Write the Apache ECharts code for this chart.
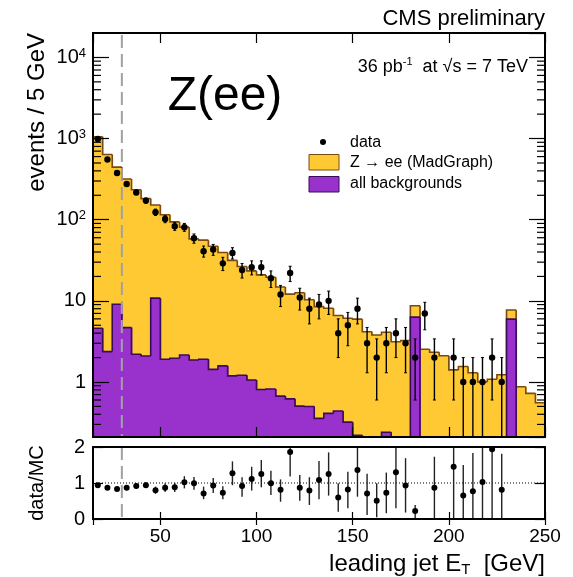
<!DOCTYPE html>
<html><head><meta charset="utf-8">
<script src="https://cdn.jsdelivr.net/npm/echarts@6/dist/echarts.min.js"></script>
<style>html,body{margin:0;padding:0;background:#fff}#c{width:573px;height:577px}</style>
</head><body><div id="c"></div>
<script>
// ---- data ----
const binLow = [15,20,25,30,35,40,45,50,55,60,65,70,75,80,85,90,95,100,105,110,115,120,125,130,135,140,145,150,155,160,165,170,175,180,185,190,195,200,205,210,215,220,225,230,235,240,245];
const binWidth = 5;
// stacked MC total (Z->ee + all backgrounds), events / 5 GeV
const mcTotal = [1050,635,445,318,234,182,152,115,94,81,58,56,47,39.5,31.5,26.5,23.4,20.9,19.5,14.8,12.1,12.6,10.3,8.5,8.1,6.6,6.1,5.95,4.17,3.8,4.1,3.14,3.24,8.7,2.53,2.33,2.11,1.41,1.55,1.30,1.0,1.08,1.23,7.7,0.875,0.725,0.555];
const backgrounds = [4.6,2.37,9.1,4.68,2.2,2.09,10.8,1.91,1.96,2.15,1.87,1.91,1.43,1.58,1.19,1.21,1.06,0.81,0.82,0.67,0.62,0.505,0.50,0.356,0.41,0.44,0.32,0.22,0,0,0.24,0,0,6.3,0,0,0,0,0,0,0,0,0,5.95,0,0,0];
const dataCounts = [990,551,377,276,217,172,124,102,83,81,59,41,43,29,39,24,26,26,19,12,22,11,8,9,10,4,5,8,3,2,3,4,3,2,7,2,0,2,1,1,1,2,1,0,0,0,0];
const dataErr = [31.5,23.5,19.4,16.6,14.7,13.1,11.1,10.1,9.1,9,7.7,6.4,6.6,5.4,6.2,4.9,5.1,5.1,4.4,3.5,4.7,3.3,2.8,3,3.2,2,2.2,2.8,1.7,1.4,1.7,2,1.7,1.4,2.6,1.4,0,1.4,1,1,1,1.4,1,0,0,0,0];
const ratio = [0.94,0.87,0.83,0.87,0.92,0.94,0.80,0.87,0.88,1.02,0.99,0.71,0.93,0.73,1.27,0.92,1.11,1.25,0.99,0.81,1.86,0.87,0.79,1.08,1.25,0.60,0.82,1.36,0.71,0.51,0.73,1.30,0.93,0.22,null,0.87,null,1.45,0.65,0.77,1.03,1.94,0.81,null,null,null,null];
const ratioErrLo = [0.04,0.05,0.06,0.06,0.07,0.08,0.10,0.12,0.13,0.17,0.18,0.16,0.21,0.18,0.33,0.30,0.32,0.37,0.32,0.33,0.68,0.36,0.40,0.53,0.60,0.40,0.52,0.74,0.60,0.46,0.57,1.0,0.75,0.20,null,0.87,null,1.45,0.65,0.77,1.03,1.94,0.81,null,null,null,null];
const ratioErrHi = [0.04,0.05,0.06,0.06,0.07,0.08,0.10,0.12,0.13,0.17,0.18,0.19,0.21,0.18,0.33,0.24,0.34,0.39,0.35,0.29,0.5,0.35,0.37,0.53,0.60,0.39,0.49,0.63,0.55,0.48,0.56,0.8,0.76,0.17,null,0.86,null,1.0,0.85,1.06,1.0,1.0,1.0,null,null,null,null];
const xTickValues = [50,100,150,200,250];
const yMajorTicks = [1,10,100,1000,10000];
const yMinorTicks = [0.3,0.4,0.5,0.6,0.7,0.8,0.9,2,3,4,5,6,7,8,9,20,30,40,50,60,70,80,90,200,300,400,500,600,700,800,900,2000,3000,4000,5000,6000,7000,8000,9000];
const ratioTicks = [0,1,2];
const jetCut = 30;
const legendLabels = ['data','Z \u2192 ee (MadGraph)','all backgrounds'];

// ---- style ----
const FONT = "'Liberation Sans', Arial, Helvetica, sans-serif";
const YELLOW = '#FFC933', YELLOW_LINE = '#7A4A12';
const PURPLE = '#9932CC', PURPLE_LINE = '#3A0C58';
const X_MIN = 15, X_MAX = 250, Y_MIN = 0.21, Y_MAX = 20000;

const chart = echarts.init(document.getElementById('c'), null, {renderer: 'canvas'});

function histSeries(values, fill, stroke, z) {
  return {
    type: 'custom', xAxisIndex: 0, yAxisIndex: 0, z: z,
    data: binLow.map((lo, i) => [lo, lo + binWidth, values[i]]),
    encode: {x: [0, 1], y: 2},
    renderItem: function (params, api) {
      const i = params.dataIndex;
      const cs = params.coordSys;
      const bottom = cs.y + cs.height;
      const lo = api.value(0), hi = api.value(1);
      const yOf = v => (v > Y_MIN ? api.coord([lo, v])[1] : bottom);
      const x0 = api.coord([lo, Y_MIN])[0];
      const x1 = api.coord([hi, Y_MIN])[0];
      const yv = yOf(values[i]);
      const yPrev = i > 0 ? yOf(values[i - 1]) : bottom;
      const children = [];
      if (yv < bottom) {
        const extra = i < values.length - 1 ? 0.9 : 0;
        children.push({type: 'rect', z2: 1, shape: {x: x0 - 0.1, y: yv, width: x1 - x0 + 0.1 + extra, height: bottom - yv}, style: {fill: fill}});
      }
      const pts = [[x0, yPrev], [x0, yv], [x1, yv]];
      if (i === values.length - 1) pts.push([x1, bottom]);
      children.push({type: 'polyline', z2: 5, shape: {points: pts}, style: {stroke: stroke, lineWidth: 1.6, fill: null}});
      return {type: 'group', children: children};
    }
  };
}

const option = {
  animation: false,
  backgroundColor: '#fff',
  textStyle: {fontFamily: FONT},
  grid: [
    {left: 93, top: 33, width: 452, height: 404, show: true, borderColor: '#000', borderWidth: 2, backgroundColor: 'transparent', z: 10},
    {left: 93, top: 447, width: 452, height: 72, show: true, borderColor: '#000', borderWidth: 2, backgroundColor: 'transparent', z: 10}
  ],
  xAxis: [
    {gridIndex: 0, type: 'value', min: X_MIN, max: X_MAX, position: 'bottom', axisLine: {show: false}, splitLine: {show: false},
     axisTick: {inside: true, length: 10, lineStyle: {color: '#000', width: 1.2}}, axisLabel: {show: false}, z: 10},
    {gridIndex: 0, type: 'value', min: X_MIN, max: X_MAX, position: 'top', axisLine: {show: false}, splitLine: {show: false},
     axisTick: {inside: true, length: 10, lineStyle: {color: '#000', width: 1.2}}, axisLabel: {show: false}, z: 10},
    {gridIndex: 1, type: 'value', min: X_MIN, max: X_MAX, position: 'bottom', axisLine: {show: false}, splitLine: {show: false},
     axisTick: {inside: true, length: 7, lineStyle: {color: '#000', width: 1.2}},
     axisLabel: {show: true, showMinLabel: false, margin: 8, fontSize: 19, color: '#000', fontFamily: FONT,
       formatter: v => (xTickValues.indexOf(Math.round(v)) >= 0 ? String(Math.round(v)) : '')}, z: 10},
    {gridIndex: 1, type: 'value', min: X_MIN, max: X_MAX, position: 'top', axisLine: {show: false}, splitLine: {show: false},
     axisTick: {inside: true, length: 6, lineStyle: {color: '#000', width: 1.2}}, axisLabel: {show: false}, z: 10}
  ],
  yAxis: [
    {gridIndex: 0, type: 'log', logBase: 10, min: Y_MIN, max: Y_MAX, position: 'left', axisLine: {show: false}, splitLine: {show: false},
     axisTick: {inside: true, length: 16, lineStyle: {color: '#000', width: 1.2}},
     axisLabel: {show: true, showMinLabel: false, showMaxLabel: false, margin: 7, fontSize: 20, color: '#000', fontFamily: FONT,
       formatter: function (v) {
         const p = Math.round(Math.log10(v));
         if (Math.abs(Math.log10(v) - p) > 1e-6) return '';
         const val = Math.pow(10, p);
         if (yMajorTicks.indexOf(val) < 0) return '';
         if (p === 0) return '{n|1}';
         if (p === 1) return '{n|10}';
         return '{n|10}{s|' + p + '}';
       },
       rich: {n: {fontSize: 20, lineHeight: 22, fontFamily: FONT, color: '#000'},
              s: {fontSize: 13, lineHeight: 13, verticalAlign: 'top', fontFamily: FONT, color: '#000'}}}, z: 10},
    {gridIndex: 0, type: 'log', logBase: 10, min: Y_MIN, max: Y_MAX, position: 'right', axisLine: {show: false}, splitLine: {show: false},
     axisTick: {inside: true, length: 16, lineStyle: {color: '#000', width: 1.2}}, axisLabel: {show: false}, z: 10},
    {gridIndex: 1, type: 'value', min: 0, max: 2, interval: 1, position: 'left', axisLine: {show: false}, splitLine: {show: false},
     axisTick: {inside: true, length: 10, lineStyle: {color: '#000', width: 1.2}},
     axisLabel: {show: true, margin: 8, fontSize: 20, color: '#000', fontFamily: FONT,
       formatter: v => (ratioTicks.indexOf(v) >= 0 ? String(v) : '')}, z: 10},
    {gridIndex: 1, type: 'value', min: 0, max: 2, interval: 1, position: 'right', axisLine: {show: false}, splitLine: {show: false},
     axisTick: {inside: true, length: 10, lineStyle: {color: '#000', width: 1.2}}, axisLabel: {show: false}, z: 10}
  ],
  series: [
    histSeries(mcTotal, YELLOW, YELLOW_LINE, 2),
    histSeries(backgrounds, PURPLE, PURPLE_LINE, 3),
    // minor log ticks (left + right)
    {
      type: 'custom', xAxisIndex: 0, yAxisIndex: 0, z: 11,
      data: yMinorTicks.map(v => [X_MIN, v]),
      renderItem: function (params, api) {
        const cs = params.coordSys;
        const y = api.coord([X_MIN, api.value(1)])[1];
        return {type: 'group', children: [
          {type: 'line', shape: {x1: cs.x, y1: y, x2: cs.x + 8, y2: y}, style: {stroke: '#000', lineWidth: 1.2}},
          {type: 'line', shape: {x1: cs.x + cs.width - 8, y1: y, x2: cs.x + cs.width, y2: y}, style: {stroke: '#000', lineWidth: 1.2}}
        ]};
      }
    },
    // jet threshold dashed line, top panel
    {
      type: 'custom', xAxisIndex: 0, yAxisIndex: 0, z: 6,
      data: [[jetCut, 1]],
      renderItem: function (params, api) {
        const cs = params.coordSys;
        const x = api.coord([api.value(0), 1])[0];
        return {type: 'line', shape: {x1: x, y1: cs.y + 2, x2: x, y2: cs.y + cs.height}, style: {stroke: '#A0A0A0', lineWidth: 2, lineDash: [13, 6]}};
      }
    },
    // data points with error bars
    {
      type: 'custom', xAxisIndex: 0, yAxisIndex: 0, z: 8,
      data: binLow.map((lo, i) => [lo + binWidth / 2, dataCounts[i], dataErr[i]]),
      encode: {x: 0, y: 1},
      renderItem: function (params, api) {
        const n = api.value(1), e = api.value(2);
        if (!(n > 0)) return null;
        const cs = params.coordSys;
        const bottom = cs.y + cs.height;
        const c = api.coord([api.value(0), n]);
        const yHi = api.coord([api.value(0), n + e])[1];
        const loV = n - e;
        const yLo = loV > Y_MIN ? api.coord([api.value(0), loV])[1] : bottom;
        const ch = [
          {type: 'line', shape: {x1: c[0], y1: yHi, x2: c[0], y2: yLo}, style: {stroke: '#000', lineWidth: 1.4}},
          {type: 'line', shape: {x1: c[0] - 1.5, y1: yHi, x2: c[0] + 1.5, y2: yHi}, style: {stroke: '#000', lineWidth: 1}},
          {type: 'circle', shape: {cx: c[0], cy: c[1], r: 3.2}, style: {fill: '#000'}}
        ];
        if (loV > Y_MIN) ch.push({type: 'line', shape: {x1: c[0] - 1.5, y1: yLo, x2: c[0] + 1.5, y2: yLo}, style: {stroke: '#000', lineWidth: 1}});
        return {type: 'group', children: ch};
      }
    },
    // ratio panel: dashed cut + dotted unity line
    {
      type: 'custom', xAxisIndex: 2, yAxisIndex: 2, z: 6,
      data: [[jetCut, 1]],
      renderItem: function (params, api) {
        const cs = params.coordSys;
        const x = api.coord([api.value(0), 1])[0];
        const y1 = api.coord([X_MIN, api.value(1)])[1];
        return {type: 'group', children: [
          {type: 'line', shape: {x1: x, y1: cs.y, x2: x, y2: cs.y + cs.height}, style: {stroke: '#A0A0A0', lineWidth: 2, lineDash: [13, 6]}},
          {type: 'line', shape: {x1: cs.x, y1: y1, x2: cs.x + cs.width, y2: y1}, style: {stroke: '#000', lineWidth: 1, lineDash: [1, 2]}}
        ]};
      }
    },
    // ratio points
    {
      type: 'custom', xAxisIndex: 2, yAxisIndex: 2, z: 8,
      data: binLow.map((lo, i) => [lo + binWidth / 2, ratio[i] == null ? NaN : ratio[i], ratioErrLo[i] == null ? 0 : ratioErrLo[i], ratioErrHi[i] == null ? 0 : ratioErrHi[i]]),
      encode: {x: 0, y: 1},
      renderItem: function (params, api) {
        const r = api.value(1);
        if (isNaN(r)) return null;
        const cs = params.coordSys;
        const clampY = y => Math.max(cs.y, Math.min(cs.y + cs.height, y));
        const x = api.value(0);
        const c = api.coord([x, r]);
        const yHi = clampY(api.coord([x, r + api.value(3)])[1]);
        const yLo = clampY(api.coord([x, r - api.value(2)])[1]);
        return {type: 'group', children: [
          {type: 'line', shape: {x1: c[0], y1: yHi, x2: c[0], y2: yLo}, style: {stroke: '#222', lineWidth: 1.4}},
          {type: 'circle', shape: {cx: c[0], cy: c[1], r: 3}, style: {fill: '#000'}}
        ]};
      }
    }
  ],
  graphic: [
    {type: 'text', x: 545, y: 19, style: {text: 'CMS preliminary', font: '22px ' + FONT, fill: '#000', align: 'right', verticalAlign: 'middle'}},
    {type: 'text', x: 528, y: 67, style: {
      text: '{n|36 pb}{s|-1}{n|  at \u221As = 7 TeV}', align: 'right', verticalAlign: 'middle',
      rich: {n: {fontSize: 18, lineHeight: 22, fontFamily: FONT, fill: '#000'}, s: {fontSize: 11, lineHeight: 11, verticalAlign: 'top', fontFamily: FONT, fill: '#000'}}}},
    {type: 'text', x: 225, y: 97, style: {text: 'Z(ee)', font: '48px ' + FONT, fill: '#000', align: 'center', verticalAlign: 'middle'}},
    // legend
    {type: 'circle', shape: {cx: 323, cy: 142, r: 3}, style: {fill: '#000'}},
    {type: 'text', x: 350, y: 143, style: {text: legendLabels[0], font: '16px ' + FONT, fill: '#000', align: 'left', verticalAlign: 'middle'}},
    {type: 'rect', shape: {x: 309, y: 154.5, width: 30, height: 15.5}, style: {fill: YELLOW, stroke: YELLOW_LINE, lineWidth: 1}},
    {type: 'text', x: 350, y: 163, style: {text: legendLabels[1], font: '16px ' + FONT, fill: '#000', align: 'left', verticalAlign: 'middle'}},
    {type: 'rect', shape: {x: 309, y: 176.5, width: 30, height: 15.5}, style: {fill: PURPLE, stroke: PURPLE_LINE, lineWidth: 1}},
    {type: 'text', x: 350, y: 184, style: {text: legendLabels[2], font: '16px ' + FONT, fill: '#000', align: 'left', verticalAlign: 'middle'}},
    // axis titles
    {type: 'text', x: 37, y: 33, rotation: Math.PI / 2, style: {text: 'events / 5 GeV', font: '24px ' + FONT, fill: '#000', align: 'right', verticalAlign: 'middle'}},
    {type: 'text', x: 37, y: 483, rotation: Math.PI / 2, style: {text: 'data/MC', font: '20px ' + FONT, fill: '#000', align: 'center', verticalAlign: 'middle'}},
    {type: 'text', x: 545, y: 564, style: {
      text: '{n|leading jet E}{t|T}{n|  [GeV]}', align: 'right', verticalAlign: 'middle',
      rich: {n: {fontSize: 24, lineHeight: 26, fontFamily: FONT, fill: '#000'}, t: {fontSize: 15, lineHeight: 15, verticalAlign: 'bottom', fontFamily: FONT, fill: '#000'}}}}
  ]
};
chart.setOption(option);
</script>
</body></html>
